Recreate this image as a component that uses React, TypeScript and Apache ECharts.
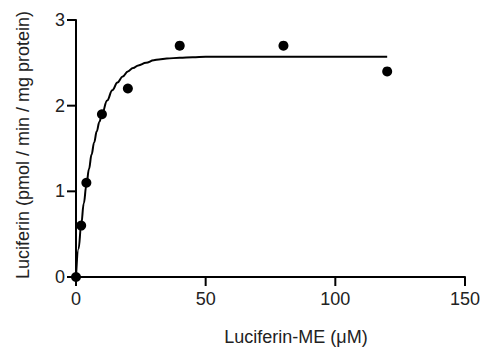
import React, { useEffect, useRef } from "react";
import * as echarts from "echarts";

const pointX = [0, 2, 4, 10, 20, 40, 80, 120];
const pointY = [0, 0.6, 1.1, 1.9, 2.2, 2.7, 2.7, 2.4];

const curveX = [0, 1, 2, 3, 4, 5, 6, 7, 8, 9, 10, 12, 14, 16, 18, 20, 22, 24, 27, 30, 32, 35, 40, 45, 50, 60, 80, 100, 120];
const curveY = [0, 0.33, 0.61, 0.86, 1.07, 1.26, 1.43, 1.57, 1.7, 1.81, 1.9, 2.06, 2.18, 2.27, 2.34, 2.4, 2.44, 2.47, 2.5, 2.53, 2.54, 2.55, 2.56, 2.565, 2.57, 2.57, 2.57, 2.57, 2.57];

const xTickValues = [0, 50, 100, 150];
const yTickValues = [0, 1, 2, 3];

const xTicks = { min: 0, max: 150, interval: 50 };
const yTicks = { min: 0, max: 3, interval: 1 };

const xTitle = "Luciferin-ME (\u03bcM)";
const yTitle = "Luciferin (pmol / min / mg protein)";

const FONT = "'Liberation Sans', Arial, sans-serif";
const TICK_LEN = 9;

export default function App() {
  const ref = useRef<HTMLDivElement>(null);
  useEffect(() => {
    if (!ref.current) return;
    const chart = echarts.init(ref.current, undefined, { renderer: "svg" });
    chart.setOption({
      animation: false,
      grid: { left: 76, right: 18, top: 20, bottom: 70 },
      xAxis: {
        type: "value",
        ...xTicks,
        axisLine: { show: true, lineStyle: { color: "#000", width: 2 } },
        axisTick: { show: false },
        splitLine: { show: false },
        axisLabel: { fontSize: 18, color: "#222", fontFamily: FONT, margin: 13 },
      },
      yAxis: {
        type: "value",
        ...yTicks,
        axisLine: { show: true, lineStyle: { color: "#000", width: 2 } },
        axisTick: { show: false },
        splitLine: { show: false },
        axisLabel: { fontSize: 18, color: "#222", fontFamily: FONT, margin: 11 },
      },
      graphic: [
        {
          type: "text",
          x: 296,
          y: 337,
          style: {
            text: xTitle,
            fontSize: 18,
            fontFamily: FONT,
            fill: "#222",
            align: "center",
            verticalAlign: "middle",
          },
        },
        {
          type: "text",
          x: 23,
          y: 145,
          rotation: Math.PI / 2,
          style: {
            text: yTitle,
            fontSize: 18,
            fontFamily: FONT,
            fill: "#222",
            align: "center",
            verticalAlign: "middle",
          },
        },
      ],
      series: [
        {
          type: "custom",
          silent: true,
          clip: false,
          data: xTickValues.map((v) => [v, 0]),
          renderItem: (params: any, api: any) => {
            const p = api.coord([api.value(0), api.value(1)]);
            return {
              type: "line",
              shape: { x1: p[0], y1: p[1], x2: p[0], y2: p[1] + TICK_LEN },
              style: { stroke: "#000", lineWidth: 2 },
            };
          },
          z: 1,
        },
        {
          type: "custom",
          silent: true,
          clip: false,
          data: yTickValues.map((v) => [0, v]),
          renderItem: (params: any, api: any) => {
            const p = api.coord([api.value(0), api.value(1)]);
            return {
              type: "line",
              shape: { x1: p[0] - TICK_LEN, y1: p[1], x2: p[0], y2: p[1] },
              style: { stroke: "#000", lineWidth: 2 },
            };
          },
          z: 1,
        },
        {
          type: "line",
          data: curveX.map((x, i) => [x, curveY[i]]),
          showSymbol: false,
          smooth: 0.4,
          smoothMonotone: "x",
          lineStyle: { color: "#000", width: 2 },
          z: 2,
        },
        {
          type: "scatter",
          data: pointX.map((x, i) => [x, pointY[i]]),
          symbolSize: 10,
          itemStyle: { color: "#000", opacity: 1 },
          z: 3,
        },
      ],
    });
    return () => chart.dispose();
  }, []);
  return (
    <div
      ref={ref}
      style={{ position: "absolute", left: 0, top: 0, width: 483, height: 347 }}
    />
  );
}
